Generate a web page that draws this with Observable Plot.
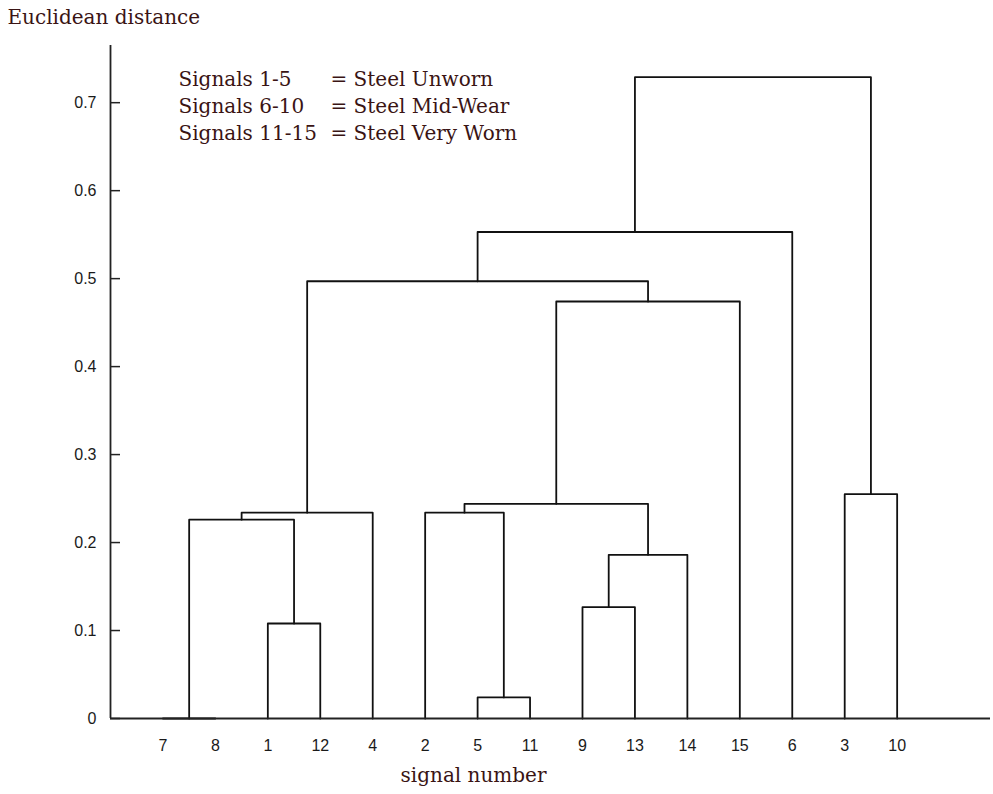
<!DOCTYPE html>
<html><head><meta charset="utf-8">
<script src="https://cdn.jsdelivr.net/npm/d3@7"></script>
<script src="https://cdn.jsdelivr.net/npm/@observablehq/plot@0.6"></script>
<style>html,body{margin:0;padding:0;background:#fff} #chart svg{display:block}</style>
</head><body><div id="chart"></div>
<script>
// Leaf order along the x axis (signal numbers)
const leafLabels = ["7","8","1","12","4","2","5","11","9","13","14","15","6","3","10"];
const leafPos = [1,2,3,4,5,6,7,8,9,10,11,12,13,14,15];
// Merge steps: left node, right node, Euclidean distance; "Lk" = leaf k (index into leafLabels), "Ck" = result of merge k
const mergeLeft  = ["L0","L2","C0","C2","L6","L5","L8","C6","C5","C8","C3","C10","L13","C11"];
const mergeRight = ["L1","L3","C1","L4","L7","C4","L9","L10","C7","L11","C9","L12","L14","C12"];
const mergeDist  = [0.0, 0.108, 0.226, 0.234, 0.024, 0.234, 0.1265, 0.186, 0.244, 0.474, 0.497, 0.553, 0.255, 0.729];
const yTicks = [0, 0.1, 0.2, 0.3, 0.4, 0.5, 0.6, 0.7];
const legendSignals = ["Signals 1-5", "Signals 6-10", "Signals 11-15"];
const legendMeaning = ["= Steel Unworn", "= Steel Mid-Wear", "= Steel Very Worn"];

// Build dendrogram link paths
const nodes = {};
leafPos.forEach((p, i) => nodes["L" + i] = {x: p, h: 0});
const pts = [];
mergeDist.forEach((h, k) => {
  const a = nodes[mergeLeft[k]], b = nodes[mergeRight[k]];
  pts.push({id: k, x: a.x, y: a.h}, {id: k, x: a.x, y: h}, {id: k, x: b.x, y: h}, {id: k, x: b.x, y: b.h});
  nodes["C" + k] = {x: (a.x + b.x) / 2, h};
});

const W = 993, H = 794, mL = 110, mR = 3, mT = 45, mB = 76;
const xDomain = [0, 16.78];
const serif = "DejaVu Serif";
const txtColor = "#3a1414";

const chart = Plot.plot({
  width: W, height: H,
  marginLeft: mL, marginRight: mR, marginTop: mT, marginBottom: mB,
  style: {background: "#fff", fontFamily: "Liberation Sans, Arial, sans-serif", fontSize: "16px", color: "#1a1a1a"},
  x: {domain: xDomain},
  y: {domain: [0, 0.765]},
  marks: [
    Plot.line(pts, {x: "x", y: "y", z: "id", stroke: "#111", strokeWidth: 1.8, curve: "linear"}),
    Plot.ruleX([xDomain[0]], {stroke: "#222", strokeWidth: 1.8}),
    Plot.ruleY([0], {stroke: "#222", strokeWidth: 1.8}),
    Plot.tickY(yTicks, {y: d => d, stroke: "#222", strokeWidth: 1.5, insetRight: W - mL - mR - 10}),
    Plot.axisY(yTicks, {tickSize: 0, tickPadding: 14, tickFormat: d => String(d), fontSize: 16, fill: "#1a1a1a", label: null}),
    Plot.axisX(leafPos, {tickSize: 0, tickPadding: 21, tickFormat: d => leafLabels[d - 1], fontSize: 16, fill: "#1a1a1a", label: null}),
    Plot.text(["Euclidean distance"], {frameAnchor: "top-left", textAnchor: "start", lineAnchor: "middle", dx: -103, dy: -28, fontFamily: serif, fontSize: 20, fill: txtColor}),
    Plot.text([legendSignals.join("\n")], {frameAnchor: "top-left", textAnchor: "start", lineAnchor: "top", lineHeight: 1.35, dx: 68, dy: 21, fontFamily: serif, fontSize: 20, fill: txtColor}),
    Plot.text([legendMeaning.join("\n")], {frameAnchor: "top-left", textAnchor: "start", lineAnchor: "top", lineHeight: 1.35, dx: 220, dy: 21, fontFamily: serif, fontSize: 20, fill: txtColor}),
    Plot.text(["signal number"], {frameAnchor: "bottom", textAnchor: "middle", lineAnchor: "middle", dx: -77, dy: 57, fontFamily: serif, fontSize: 20, fill: txtColor})
  ]
});
document.getElementById("chart").appendChild(chart);
</script>
</body></html>
